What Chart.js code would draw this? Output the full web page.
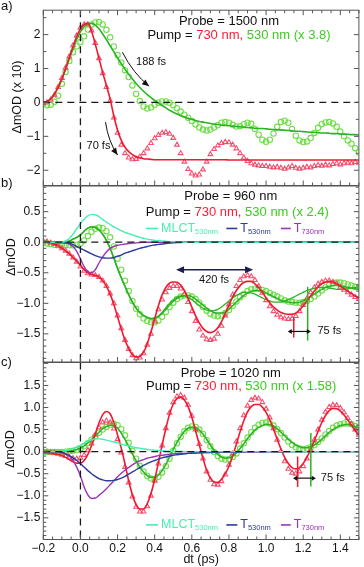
<!DOCTYPE html>
<html lang="en">
<head>
<meta charset="UTF-8" />
<title>Probe transients</title>
<script src="https://cdn.jsdelivr.net/npm/chart.js"></script>
<style>
  html, body { margin: 0; padding: 0; background: #fff; }
  #wrap { position: relative; width: 364px; height: 567px; }
  #wrap canvas { position: absolute; left: 0; top: 0; }
</style>
</head>
<body>
<div id="wrap">
  <canvas id="panelA" width="364" height="567"></canvas>
  <canvas id="panelB" width="364" height="567"></canvas>
  <canvas id="panelC" width="364" height="567"></canvas>
</div>
<script>
// delay axis (ps), shared by all three panels
const t = [
  -0.2, -0.18, -0.16, -0.14, -0.12, -0.1, -0.08, -0.06, -0.04, -0.02,
  0, 0.02, 0.04, 0.06, 0.08, 0.1, 0.12, 0.14, 0.16, 0.18,
  0.2, 0.22, 0.24, 0.26, 0.28, 0.3, 0.32, 0.34, 0.36, 0.38,
  0.4, 0.42, 0.44, 0.46, 0.48, 0.5, 0.52, 0.54, 0.56, 0.58,
  0.6, 0.62, 0.64, 0.66, 0.68, 0.7, 0.72, 0.74, 0.76, 0.78,
  0.8, 0.82, 0.84, 0.86, 0.88, 0.9, 0.92, 0.94, 0.96, 0.98,
  1.0, 1.02, 1.04, 1.06, 1.08, 1.1, 1.12, 1.14, 1.16, 1.18,
  1.2, 1.22, 1.24, 1.26, 1.28, 1.3, 1.32, 1.34, 1.36, 1.38,
  1.4, 1.42, 1.44, 1.46, 1.48, 1.5
];

// a) probe 1500 nm
const aRed = [
  -0.02, 0.0, 0.08, 0.22, 0.45, 0.72, 1.02, 1.35, 1.68, 1.97,
  2.2, 2.3, 2.3, 2.12, 1.75, 1.3, 0.86, 0.45, 0.05, -0.45,
  -0.9, -1.25, -1.5, -1.63, -1.68, -1.67, -1.6, -1.5, -1.36, -1.2,
  -1.06, -0.96, -0.9, -0.88, -0.93, -1.05, -1.25, -1.5, -1.75, -1.97,
  -2.1, -2.16, -2.13, -1.98, -1.75, -1.53, -1.38, -1.27, -1.2, -1.17,
  -1.18, -1.25, -1.36, -1.5, -1.63, -1.73, -1.8, -1.84, -1.86, -1.88,
  -1.88, -1.9, -1.92, -1.9, -1.93, -1.96, -1.92, -1.88, -1.93, -1.96,
  -1.93, -1.9, -1.92, -1.88, -1.85, -1.87, -1.84, -1.86, -1.82, -1.8,
  -1.83, -1.8, -1.78, -1.8, -1.76, -1.78
];
const aRedFit = [
  0.0, 0.03, 0.1, 0.25, 0.45, 0.7, 1.0, 1.33, 1.65, 1.95,
  2.17, 2.3, 2.33, 2.1, 1.72, 1.3, 0.88, 0.5, 0.1, -0.4,
  -0.82, -1.12, -1.32, -1.45, -1.54, -1.6, -1.63, -1.66, -1.67, -1.68,
  -1.69, -1.69, -1.69, -1.69, -1.69, -1.69, -1.69, -1.69, -1.69, -1.69,
  -1.69, -1.69, -1.69, -1.69, -1.69, -1.69, -1.69, -1.69, -1.69, -1.69,
  -1.7, -1.7, -1.7, -1.7, -1.7, -1.7, -1.7, -1.7, -1.7, -1.7,
  -1.7, -1.7, -1.7, -1.7, -1.7, -1.7, -1.7, -1.7, -1.7, -1.7,
  -1.7, -1.7, -1.7, -1.7, -1.7, -1.7, -1.7, -1.7, -1.7, -1.7,
  -1.7, -1.7, -1.7, -1.7, -1.7, -1.7
];
const aGreen = [
  -0.05, -0.08, -0.07, 0.02, 0.2, 0.55, 0.9, 1.22, 1.48, 1.65,
  1.78, 1.95, 2.15, 2.3, 2.36, 2.37, 2.3, 2.14, 1.92, 1.65,
  1.4, 1.18, 0.95, 0.75, 0.5, 0.25, 0.04, -0.12, -0.18, -0.15,
  -0.07, -0.01, 0.03, 0.03, -0.01, -0.08, -0.17, -0.27, -0.36, -0.45,
  -0.55, -0.65, -0.74, -0.8, -0.83, -0.8, -0.74, -0.67, -0.6, -0.58,
  -0.6, -0.66, -0.71, -0.7, -0.64, -0.6, -0.63, -0.78, -0.95, -1.1,
  -1.16, -1.1, -0.92, -0.72, -0.58, -0.54, -0.6, -0.78, -0.98, -1.12,
  -1.17, -1.15, -1.05, -0.9, -0.75, -0.64, -0.59, -0.58, -0.62, -0.72,
  -0.86, -1.0, -1.12, -1.22, -1.35, -1.48
];
const aGreenFit = [
  0.0, 0.03, 0.1, 0.24, 0.44, 0.68, 0.97, 1.28, 1.58, 1.86,
  2.08, 2.23, 2.31, 2.33, 2.28, 2.17, 2.02, 1.85, 1.67, 1.49,
  1.31, 1.14, 0.98, 0.83, 0.69, 0.56, 0.44, 0.33, 0.23, 0.14,
  0.06, -0.02, -0.09, -0.16, -0.23, -0.29, -0.34, -0.39, -0.43, -0.47,
  -0.5, -0.53, -0.56, -0.58, -0.6, -0.62, -0.64, -0.65, -0.67, -0.68,
  -0.69, -0.7, -0.71, -0.72, -0.73, -0.74, -0.75, -0.76, -0.77, -0.77,
  -0.78, -0.79, -0.8, -0.81, -0.81, -0.82, -0.83, -0.84, -0.85, -0.85,
  -0.86, -0.87, -0.88, -0.88, -0.89, -0.9, -0.9, -0.91, -0.92, -0.92,
  -0.93, -0.94, -0.94, -0.95, -0.95, -0.96
];

// b) probe 960 nm
const bRed = [
  0.02, 0.01, -0.01, -0.03, -0.06, -0.1, -0.14, -0.19, -0.25, -0.32,
  -0.4, -0.47, -0.51, -0.53, -0.54, -0.57, -0.63, -0.72, -0.84, -1.0,
  -1.2, -1.41, -1.6, -1.75, -1.85, -1.9, -1.89, -1.82, -1.68, -1.5,
  -1.3, -1.1, -0.94, -0.82, -0.75, -0.72, -0.72, -0.76, -0.85, -0.98,
  -1.13, -1.29, -1.43, -1.53, -1.59, -1.6, -1.58, -1.5, -1.37, -1.2,
  -1.02, -0.86, -0.72, -0.62, -0.56, -0.54, -0.56, -0.62, -0.72, -0.83,
  -0.95, -1.05, -1.13, -1.19, -1.23, -1.25, -1.26, -1.25, -1.21, -1.13,
  -1.03, -0.92, -0.82, -0.74, -0.68, -0.65, -0.63, -0.63, -0.65, -0.68,
  -0.73, -0.78, -0.82, -0.86, -0.9, -0.93
];
const bRedFit = [
  0.01, 0.0, -0.01, -0.03, -0.06, -0.1, -0.14, -0.19, -0.25, -0.31,
  -0.38, -0.45, -0.5, -0.53, -0.54, -0.57, -0.63, -0.72, -0.85, -1.02,
  -1.22, -1.42, -1.6, -1.74, -1.84, -1.88, -1.87, -1.8, -1.66, -1.47,
  -1.25, -1.04, -0.86, -0.74, -0.67, -0.65, -0.655, -0.7, -0.79, -0.92,
  -1.06, -1.2, -1.32, -1.41, -1.46, -1.48, -1.46, -1.4, -1.3, -1.17,
  -1.03, -0.9, -0.79, -0.71, -0.66, -0.64, -0.64, -0.68, -0.74, -0.82,
  -0.91, -0.99, -1.06, -1.11, -1.15, -1.17, -1.18, -1.18, -1.16, -1.11,
  -1.04, -0.96, -0.88, -0.8, -0.73, -0.68, -0.65, -0.64, -0.65, -0.68,
  -0.72, -0.76, -0.8, -0.84, -0.88, -0.91
];
const bGreen = [
  -0.01, -0.02, -0.03, -0.04, -0.05, -0.05, -0.05, -0.05, -0.05, -0.04,
  -0.02, 0.03, 0.1, 0.17, 0.22, 0.24, 0.23, 0.18, 0.08, -0.07,
  -0.27, -0.45, -0.63, -0.8, -0.96, -1.09, -1.18, -1.25, -1.29, -1.31,
  -1.31, -1.28, -1.22, -1.14, -1.06, -0.99, -0.93, -0.89, -0.87, -0.87,
  -0.89, -0.93, -0.99, -1.06, -1.12, -1.17, -1.2, -1.21, -1.2, -1.16,
  -1.11, -1.04, -0.97, -0.9, -0.85, -0.8, -0.77, -0.76, -0.76, -0.78,
  -0.8, -0.83, -0.86, -0.89, -0.92, -0.95, -0.97, -0.98, -0.99, -0.99,
  -0.98, -0.96, -0.93, -0.89, -0.84, -0.79, -0.74, -0.7, -0.67, -0.66,
  -0.66, -0.67, -0.69, -0.71, -0.73, -0.74
];
const bGreenFit = [
  0.02, 0.01, 0.0, -0.01, -0.01, -0.01, 0.0, 0.02, 0.05, 0.08,
  0.12, 0.18, 0.23, 0.25, 0.24, 0.2, 0.13, 0.03, -0.1, -0.26,
  -0.43, -0.58, -0.72, -0.86, -0.98, -1.08, -1.15, -1.2, -1.23, -1.25,
  -1.24, -1.21, -1.16, -1.1, -1.03, -0.97, -0.92, -0.89, -0.87, -0.87,
  -0.89, -0.93, -0.98, -1.03, -1.08, -1.12, -1.15, -1.16, -1.16, -1.14,
  -1.1, -1.04, -0.98, -0.92, -0.87, -0.83, -0.8, -0.79, -0.79, -0.8,
  -0.83, -0.86, -0.89, -0.92, -0.95, -0.97, -0.98, -0.99, -0.99, -0.98,
  -0.96, -0.93, -0.89, -0.85, -0.81, -0.77, -0.74, -0.72, -0.71, -0.71,
  -0.72, -0.73, -0.74, -0.75, -0.76, -0.77
];
const bGreenFit2 = [
  0.02, 0.01, 0.0, -0.01, -0.01, -0.01, 0.0, 0.02, 0.05, 0.08,
  0.12, 0.18, 0.23, 0.25, 0.24, 0.2, 0.13, 0.03, -0.1, -0.26,
  -0.43, -0.58, -0.72, -0.86, -0.98, -1.08, -1.15, -1.2, -1.23, -1.25,
  -1.24, -1.22, -1.15, -1.07, -1.0, -0.94, -0.9, -0.88, -0.88, -0.9,
  -0.94, -0.99, -1.04, -1.08, -1.11, -1.12, -1.12, -1.1, -1.06, -1.01,
  -0.96, -0.91, -0.87, -0.84, -0.82, -0.82, -0.83, -0.85, -0.88, -0.91,
  -0.94, -0.96, -0.98, -0.98, -0.98, -0.96, -0.94, -0.91, -0.88, -0.85,
  -0.82, -0.79, -0.77, -0.75, -0.74, -0.74, -0.74, -0.75, -0.76, -0.77,
  -0.77, -0.77, -0.76, -0.75, -0.74, -0.73
];
const bMLCT = [
  0, 0, 0, 0, 0, 0, 0.02, 0.06, 0.13, 0.22,
  0.3, 0.38, 0.43, 0.455, 0.45, 0.42, 0.37, 0.33, 0.29, 0.25,
  0.22, 0.19, 0.16, 0.14, 0.12, 0.1, 0.08, 0.065, 0.05, 0.04,
  0.03, 0.025, 0.02, 0.015, 0.01, 0.01, 0.005, 0.005, 0, 0,
  0, 0, 0, 0, 0, 0, 0, 0, 0, 0,
  0, 0, 0, 0, 0, 0, 0, 0, 0, 0,
  0, 0, 0, 0, 0, 0, 0, 0, 0, 0,
  0, 0, 0, 0, 0, 0, 0, 0, 0, 0,
  0, 0, 0, 0, 0, 0
];
const bT530 = [
  0, 0, 0, 0, 0, 0, -0.01, -0.02, -0.04, -0.07,
  -0.1, -0.13, -0.16, -0.19, -0.22, -0.24, -0.255, -0.26, -0.26, -0.25,
  -0.23, -0.21, -0.18, -0.16, -0.14, -0.12, -0.1, -0.085, -0.07, -0.055,
  -0.045, -0.035, -0.03, -0.02, -0.015, -0.01, -0.005, -0.005, 0, 0,
  0, 0, 0, 0, 0, 0, 0, 0, 0, 0,
  0, 0, 0, 0, 0, 0, 0, 0, 0, 0,
  0, 0, 0, 0, 0, 0, 0, 0, 0, 0,
  0, 0, 0, 0, 0, 0, 0, 0, 0, 0,
  0, 0, 0, 0, 0, 0
];
const bT730 = [
  0, 0, 0, 0, 0, 0, -0.01, -0.03, -0.07, -0.15,
  -0.27, -0.4, -0.48, -0.5, -0.45, -0.34, -0.24, -0.16, -0.1, -0.07,
  -0.05, -0.04, -0.03, -0.02, -0.015, -0.01, -0.005, 0, 0, 0,
  0, 0, 0, 0, 0, 0, 0, 0, 0, 0,
  0, 0, 0, 0, 0, 0, 0, 0, 0, 0,
  0, 0, 0, 0, 0, 0, 0, 0, 0, 0,
  0, 0, 0, 0, 0, 0, 0, 0, 0, 0,
  0, 0, 0, 0, 0, 0, 0, 0, 0, 0,
  0, 0, 0, 0, 0, 0
];

// c) probe 1020 nm
const cRed = [
  0.0, -0.01, -0.02, -0.03, -0.05, -0.07, -0.1, -0.13, -0.15, -0.16,
  -0.14, -0.08, 0.03, 0.18, 0.38, 0.55, 0.66, 0.7, 0.66, 0.52,
  0.28, -0.02, -0.35, -0.7, -1.02, -1.25, -1.36, -1.36, -1.24, -1.0,
  -0.66, -0.27, 0.14, 0.53, 0.88, 1.12, 1.25, 1.28, 1.22, 1.06,
  0.81, 0.5, 0.17, -0.16, -0.45, -0.64, -0.74, -0.75, -0.67, -0.52,
  -0.3, -0.05, 0.23, 0.53, 0.82, 1.04, 1.17, 1.22, 1.2, 1.12,
  0.97, 0.77, 0.53, 0.27, 0.01, -0.22, -0.39, -0.48, -0.5, -0.45,
  -0.33, -0.16, 0.04, 0.27, 0.5, 0.72, 0.9, 1.01, 1.06, 1.05,
  0.99, 0.89, 0.76, 0.63, 0.5, 0.38
];
const cRedFit = [
  -0.02, -0.02, -0.03, -0.04, -0.06, -0.09, -0.13, -0.18, -0.23, -0.26,
  -0.26, -0.2, -0.06, 0.14, 0.4, 0.65, 0.84, 0.91, 0.86, 0.66,
  0.38, 0.08, -0.28, -0.66, -0.98, -1.2, -1.3, -1.3, -1.18, -0.95,
  -0.63, -0.25, 0.15, 0.52, 0.85, 1.08, 1.2, 1.23, 1.17, 1.02,
  0.78, 0.48, 0.16, -0.15, -0.42, -0.6, -0.69, -0.7, -0.63, -0.5,
  -0.33, -0.1, 0.17, 0.45, 0.7, 0.9, 1.02, 1.07, 1.07, 1.01,
  0.89, 0.72, 0.51, 0.28, 0.06, -0.13, -0.27, -0.36, -0.39, -0.36,
  -0.27, -0.13, 0.05, 0.25, 0.46, 0.66, 0.82, 0.93, 0.98, 0.97,
  0.92, 0.83, 0.72, 0.6, 0.48, 0.37
];
const cGreen = [
  0.0, 0.0, -0.01, -0.01, -0.01, -0.01, 0.0, 0.01, 0.02, 0.04,
  0.07, 0.12, 0.19, 0.27, 0.35, 0.43, 0.5, 0.56, 0.61, 0.63,
  0.6, 0.51, 0.37, 0.2, 0.02, -0.16, -0.32, -0.45, -0.55, -0.61,
  -0.62, -0.57, -0.47, -0.33, -0.16, 0.02, 0.19, 0.34, 0.46, 0.54,
  0.57, 0.56, 0.5, 0.4, 0.26, 0.12, -0.01, -0.1, -0.16, -0.18,
  -0.17, -0.12, -0.04, 0.07, 0.19, 0.32, 0.44, 0.54, 0.61, 0.65,
  0.66, 0.64, 0.59, 0.51, 0.42, 0.32, 0.23, 0.15, 0.1, 0.07,
  0.06, 0.07, 0.1, 0.15, 0.22, 0.3, 0.39, 0.47, 0.54, 0.59,
  0.62, 0.64, 0.64, 0.62, 0.58, 0.53
];
const cGreenFit = [
  0.02, 0.01, 0.0, 0.0, 0.0, 0.0, 0.01, 0.02, 0.03, 0.05,
  0.08, 0.13, 0.2, 0.28, 0.36, 0.44, 0.52, 0.57, 0.6, 0.59,
  0.53, 0.42, 0.28, 0.12, -0.05, -0.21, -0.35, -0.46, -0.54, -0.58,
  -0.58, -0.53, -0.43, -0.29, -0.12, 0.05, 0.21, 0.35, 0.46, 0.53,
  0.55, 0.54, 0.49, 0.4, 0.28, 0.15, 0.03, -0.06, -0.12, -0.15,
  -0.14, -0.1, -0.03, 0.07, 0.18, 0.3, 0.4, 0.49, 0.55, 0.59,
  0.62, 0.61, 0.58, 0.52, 0.44, 0.36, 0.28, 0.21, 0.15, 0.11,
  0.09, 0.09, 0.11, 0.15, 0.21, 0.28, 0.36, 0.44, 0.5, 0.55,
  0.59, 0.61, 0.62, 0.6, 0.57, 0.53
];
const cMLCT = [
  0, 0, 0, 0, 0, 0.01, 0.02, 0.04, 0.07, 0.11,
  0.15, 0.2, 0.24, 0.27, 0.29, 0.29, 0.28, 0.26, 0.24, 0.22,
  0.2, 0.17, 0.15, 0.13, 0.11, 0.09, 0.08, 0.065, 0.05, 0.04,
  0.035, 0.03, 0.02, 0.015, 0.01, 0.01, 0.005, 0.005, 0, 0,
  0, 0, 0, 0, 0, 0, 0, 0, 0, 0,
  0, 0, 0, 0, 0, 0, 0, 0, 0, 0,
  0, 0, 0, 0, 0, 0, 0, 0, 0, 0,
  0, 0, 0, 0, 0, 0, 0, 0, 0, 0,
  0, 0, 0, 0, 0, 0
];
const cT530 = [
  0, 0, 0, 0, 0, -0.02, -0.05, -0.09, -0.14, -0.2,
  -0.27, -0.35, -0.43, -0.5, -0.56, -0.61, -0.64, -0.66, -0.66, -0.65,
  -0.63, -0.6, -0.56, -0.51, -0.46, -0.41, -0.36, -0.31, -0.27, -0.23,
  -0.2, -0.17, -0.14, -0.12, -0.1, -0.08, -0.07, -0.06, -0.05, -0.04,
  -0.035, -0.03, -0.025, -0.02, -0.02, -0.015, -0.015, -0.01, -0.01, -0.01,
  -0.005, -0.005, -0.005, -0.005, -0.005, 0, 0, 0, 0, 0,
  0, 0, 0, 0, 0, 0, 0, 0, 0, 0,
  0, 0, 0, 0, 0, 0, 0, 0, 0, 0,
  0, 0, 0, 0, 0, 0
];
const cT730 = [
  0, 0, 0, 0, 0, -0.02, -0.05, -0.1, -0.2, -0.35,
  -0.55, -0.8, -0.98, -1.06, -1.05, -0.99, -0.92, -0.84, -0.75, -0.66,
  -0.57, -0.49, -0.42, -0.36, -0.3, -0.25, -0.21, -0.18, -0.15, -0.13,
  -0.11, -0.09, -0.08, -0.07, -0.06, -0.05, -0.045, -0.04, -0.04, -0.035,
  -0.03, -0.03, -0.025, -0.025, -0.02, -0.02, -0.02, -0.015, -0.015, -0.015,
  -0.01, -0.01, -0.01, -0.01, -0.01, -0.01, -0.01, -0.01, -0.01, -0.01,
  -0.005, -0.005, -0.005, -0.005, -0.005, 0, 0, 0, 0, 0,
  0, 0, 0, 0, 0, 0, 0, 0, 0, 0,
  0, 0, 0, 0, 0, 0
];

const FONT = '"Liberation Sans", Arial, Helvetica, sans-serif';
const INK = '#111';
const RED = '#ef1a30', RED_MK = 'rgba(244,62,96,0.9)', RED_TXT = '#ff1a35';
const GREEN = '#2bb326', GREEN_MK = 'rgba(104,220,64,0.95)', GREEN_TXT = '#3ccc1e';
const MLCT_C = '#45efb0', T530_C = '#2b3c9c', T730_C = '#9b35b5';

Chart.defaults.font.family = FONT;
Chart.defaults.color = INK;

const pts = arr => t.map((x, i) => ({ x: x, y: arr[i] }));

function fmt(v, dec) {
  const s = Math.abs(v).toFixed(dec);
  return (v < -1e-9 ? '\u2212' : '') + s;
}

function line(arr, color, w, order) {
  return { data: pts(arr), borderColor: color, borderWidth: w, pointRadius: 0,
           fill: false, cubicInterpolationMode: 'monotone', order: order };
}
function marks(arr, color, style) {
  return { data: pts(arr), showLine: false, pointStyle: style, pointRadius: 2.7,
           pointBorderWidth: 1.1, pointBorderColor: color,
           pointBackgroundColor: 'rgba(255,255,255,0)', order: 5 };
}

// ---- drawing helpers for the annotations ----
function label(ctx, s, x, y, o) {
  o = o || {};
  ctx.font = (o.size || 13) + 'px ' + FONT;
  ctx.fillStyle = o.color || INK;
  ctx.textAlign = o.align || 'left';
  ctx.textBaseline = 'middle';
  ctx.fillText(s, x, y);
}
function richLine(ctx, parts, cx, y, size) {
  ctx.font = size + 'px ' + FONT;
  const w = parts.reduce((s, p) => s + ctx.measureText(p[0]).width, 0);
  let x = cx - w / 2;
  ctx.textAlign = 'left';
  ctx.textBaseline = 'middle';
  parts.forEach(p => {
    ctx.fillStyle = p[1];
    ctx.fillText(p[0], x, y);
    x += ctx.measureText(p[0]).width;
  });
}
function yTitle(ctx, s, x, y) {
  ctx.save();
  ctx.translate(x, y);
  ctx.rotate(-Math.PI / 2);
  label(ctx, s, 0, 0, { align: 'center', size: 12.5 });
  ctx.restore();
}
function head(ctx, x, y, ang, len, half) {
  const c = Math.cos(ang), s = Math.sin(ang);
  ctx.beginPath();
  ctx.moveTo(x, y);
  ctx.lineTo(x - len * c + half * s, y - len * s - half * c);
  ctx.lineTo(x - len * c - half * s, y - len * s + half * c);
  ctx.closePath();
  ctx.fill();
}
function curveArrow(ctx, x1, y1, cx, cy, x2, y2) {
  ctx.strokeStyle = INK; ctx.fillStyle = INK; ctx.lineWidth = 1;
  ctx.beginPath();
  ctx.moveTo(x1, y1);
  ctx.quadraticCurveTo(cx, cy, x2, y2);
  ctx.stroke();
  head(ctx, x2, y2, Math.atan2(y2 - cy, x2 - cx), 7, 3);
}
function dblArrow(ctx, x1, x2, y, len, half, color, w) {
  ctx.strokeStyle = color; ctx.fillStyle = color; ctx.lineWidth = w;
  ctx.beginPath();
  ctx.moveTo(x1 + len * 0.6, y);
  ctx.lineTo(x2 - len * 0.6, y);
  ctx.stroke();
  head(ctx, x2, y, 0, len, half);
  head(ctx, x1, y, Math.PI, len, half);
}
function vline(ctx, x, y1, y2, color) {
  ctx.strokeStyle = color; ctx.lineWidth = 1.5;
  ctx.beginPath(); ctx.moveTo(x, y1); ctx.lineTo(x, y2); ctx.stroke();
}
function legendItem(ctx, x1, x2, y, color, main, sub) {
  ctx.strokeStyle = color; ctx.lineWidth = 1.6;
  ctx.beginPath(); ctx.moveTo(x1, y); ctx.lineTo(x2, y); ctx.stroke();
  label(ctx, main, x2 + 3, y, { size: 12.5, color: color });
  const w = ctx.measureText(main).width;
  label(ctx, sub, x2 + 3 + w, y + 3, { size: 7.5, color: color });
}
function legendRow(ctx, X, Y, v) {
  legendItem(ctx, X(0.353), X(0.418), Y(v), MLCT_C, 'MLCT', '530nm');
  legendItem(ctx, X(0.786), X(0.845), Y(v), T530_C, 'T', '530nm');
  legendItem(ctx, X(1.08), X(1.133), Y(v), T730_C, 'T', '730nm');
}

// frame, inward ticks, dashed zero lines, then panel-specific annotations
function deco(conf) {
  return {
    id: 'deco' + conf.name,
    afterDatasetsDraw(chart) {
      const { ctx, chartArea: a, scales } = chart;
      const xs = scales.x, ys = scales.y;
      const X = v => xs.getPixelForValue(v), Y = v => ys.getPixelForValue(v);
      ctx.save();

      ctx.strokeStyle = '#1a1a1a';
      ctx.lineWidth = 1.3;
      ctx.setLineDash([7, 5]);
      ctx.beginPath();
      ctx.moveTo(a.left, Y(0)); ctx.lineTo(a.right, Y(0));
      ctx.moveTo(X(0), a.top); ctx.lineTo(X(0), a.bottom);
      ctx.stroke();
      ctx.setLineDash([]);

      ctx.strokeStyle = '#555';
      ctx.lineWidth = 1;
      ctx.strokeRect(a.left, a.top, a.width, a.height);
      ctx.beginPath();
      for (let k = -4; k <= 30; k++) {
        const px = X(k * 0.05);
        const L = (k % 4 === 0) ? 5 : 3;
        ctx.moveTo(px, a.bottom); ctx.lineTo(px, a.bottom - L);
        if (conf.topTicks) { ctx.moveTo(px, a.top); ctx.lineTo(px, a.top + L); }
      }
      const k0 = Math.ceil(ys.min / conf.yMinor - 1e-6);
      const k1 = Math.floor(ys.max / conf.yMinor + 1e-6);
      for (let k = k0; k <= k1; k++) {
        const v = k * conf.yMinor;
        const r = v / conf.yMajor;
        const L = Math.abs(r - Math.round(r)) < 1e-6 ? 5 : 3;
        ctx.moveTo(a.left, Y(v)); ctx.lineTo(a.left + L, Y(v));
        ctx.moveTo(a.right, Y(v)); ctx.lineTo(a.right - L, Y(v));
      }
      ctx.stroke();

      conf.draw(ctx, X, Y);
      ctx.restore();
    }
  };
}

function yAxis(min, max, step, dec, hideAbove) {
  return {
    type: 'linear', min: min, max: max,
    afterFit: s => { s.width = 43.3; },
    grid: { display: false, drawTicks: false },
    border: { display: false },
    ticks: {
      stepSize: step, includeBounds: false, padding: 3, color: INK, font: { size: 12 },
      callback: v => (hideAbove !== undefined && v > hideAbove) ? '' : fmt(v, dec)
    }
  };
}
const hiddenX = { type: 'linear', min: -0.2, max: 1.5, display: false };

function makeChart(id, datasets, scales, padding, plugin) {
  return new Chart(document.getElementById(id), {
    type: 'line',
    data: { datasets: datasets },
    options: {
      responsive: false,
      animation: false,
      layout: { padding: padding },
      plugins: { legend: { display: false }, tooltip: { enabled: false } },
      scales: scales
    },
    plugins: [plugin]
  });
}

// a)
makeChart('panelA', [
  marks(aRed, RED_MK, 'triangle'),
  marks(aGreen, GREEN_MK, 'circle'),
  line(aRedFit, RED, 1.6, 2),
  line(aGreenFit, GREEN, 1.6, 2)
], { x: hiddenX, y: yAxis(-2.45, 2.72, 1, 0) },
{ top: 10, bottom: 381.5, left: 0, right: 2.3 },
deco({
  name: 'A', topTicks: true, yMinor: 0.5, yMajor: 1,
  draw(ctx, X, Y) {
    label(ctx, 'a)', 1, 6, { size: 13 });
    yTitle(ctx, '\u0394mOD (x 10)', 18, 97);
    label(ctx, 'Probe = 1500 nm', X(0.8), Y(2.4), { align: 'center' });
    richLine(ctx, [['Pump = ', INK], ['730 nm,', RED_TXT], [' 530 nm (x 3.8)', GREEN_TXT]], X(0.854), Y(1.99), 13);
    label(ctx, '188 fs', X(0.30), Y(1.2), { size: 11 });
    curveArrow(ctx, X(0.226), Y(1.48), X(0.285), Y(0.85), X(0.37), Y(0.48));
    label(ctx, '70 fs', X(0.033), Y(-1.29), { size: 11 });
    curveArrow(ctx, X(0.135), Y(-0.58), X(0.15), Y(-1.15), X(0.2), Y(-1.55));
  }
}));

// b)
makeChart('panelB', [
  marks(bRed, RED_MK, 'triangle'),
  marks(bGreen, GREEN_MK, 'circle'),
  line(bRedFit, RED, 1.6, 2),
  line(bGreenFit, GREEN, 1.5, 2),
  line(bGreenFit2, GREEN, 1.3, 2),
  line(bMLCT, MLCT_C, 1.4, 1),
  line(bT530, T530_C, 1.4, 1),
  line(bT730, T730_C, 1.4, 1)
], { x: hiddenX, y: yAxis(-1.96, 0.92, 0.5, 1) },
{ top: 186, bottom: 205, left: 0, right: 2.3 },
deco({
  name: 'B', topTicks: false, yMinor: 0.1, yMajor: 0.5,
  draw(ctx, X, Y) {
    label(ctx, 'b)', 1, 183, { size: 13 });
    yTitle(ctx, '\u0394mOD', 12, 257);
    label(ctx, 'Probe = 960 nm', X(0.81), Y(0.75), { align: 'center' });
    richLine(ctx, [['Pump = ', INK], ['730 nm,', RED_TXT], [' 530 nm (x 2.4)', GREEN_TXT]], X(0.845), Y(0.49), 13);
    legendRow(ctx, X, Y, 0.225);
    dblArrow(ctx, X(0.515), X(0.93), Y(-0.45), 8, 3.5, '#1b1f4a', 1.5);
    label(ctx, '420 fs', X(0.72), Y(-0.61), { size: 11, align: 'center' });
    vline(ctx, X(1.149), Y(-1.23), Y(-1.56), RED);
    vline(ctx, X(1.224), Y(-0.73), Y(-1.61), GREEN);
    dblArrow(ctx, X(1.117), X(1.241), Y(-1.46), 4, 2.5, INK, 1.2);
    label(ctx, '75 fs', X(1.277), Y(-1.46), { size: 11 });
  }
}));

// c)
makeChart('panelC', [
  marks(cRed, RED_MK, 'triangle'),
  marks(cGreen, GREEN_MK, 'circle'),
  line(cRedFit, RED, 1.6, 2),
  line(cGreenFit, GREEN, 1.6, 2),
  line(cMLCT, MLCT_C, 1.4, 1),
  line(cT530, T530_C, 1.4, 1),
  line(cT730, T730_C, 1.4, 1)
], {
  x: {
    type: 'linear', min: -0.2, max: 1.5,
    afterFit: s => { s.height = 27.5; },
    grid: { display: false, drawTicks: false },
    border: { display: false },
    ticks: { stepSize: 0.2, includeBounds: false, padding: 2, maxRotation: 0, autoSkip: false,
             color: INK, font: { size: 12 }, callback: v => fmt(v, 1) },
    title: { display: true, text: 'dt (ps)', color: INK, font: { size: 12.5 }, padding: { top: 0, bottom: 0 } }
  },
  y: yAxis(-1.99, 2.02, 0.5, 1, 1.9)
},
{ top: 362.5, bottom: 0, left: 0, right: 2.3 },
deco({
  name: 'C', topTicks: false, yMinor: 0.1, yMajor: 0.5,
  draw(ctx, X, Y) {
    label(ctx, 'c)', 1, 362, { size: 13 });
    yTitle(ctx, '\u0394mOD', 10.5, 449);
    label(ctx, 'Probe = 1020 nm', X(0.81), Y(1.78), { align: 'center' });
    richLine(ctx, [['Pump = ', INK], ['730 nm,', RED_TXT], [' 530 nm (x 1.58)', GREEN_TXT]], X(0.866), Y(1.47), 13);
    legendRow(ctx, X, Y, -1.66);
    vline(ctx, X(1.17), Y(-0.11), Y(-0.8), RED);
    vline(ctx, X(1.241), Y(0.42), Y(-0.79), GREEN);
    dblArrow(ctx, X(1.145), X(1.268), Y(-0.6), 4, 2.5, INK, 1.2);
    label(ctx, '75 fs', X(1.295), Y(-0.6), { size: 11 });
  }
}));
</script>
</body>
</html>
